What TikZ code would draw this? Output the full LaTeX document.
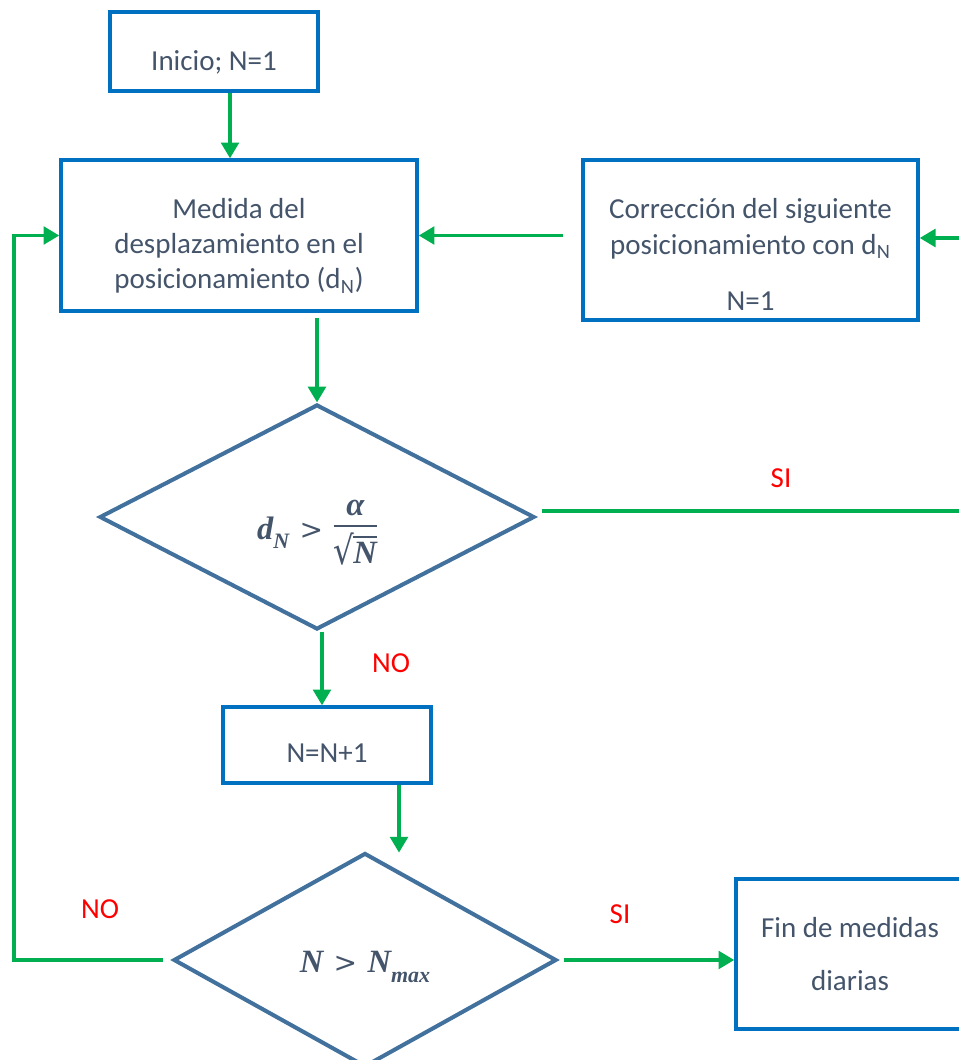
\documentclass[tikz,border=0pt]{standalone}
\usepackage{graphicx}
\usepackage{fontspec}
\setmainfont{Carlito}
\newfontfamily\mates{Liberation Serif}
\newfontfamily\raizf{DejaVu Serif}
\usetikzlibrary{arrows.meta,shapes.geometric}
\definecolor{cajaazul}{HTML}{0070C0}
\definecolor{rombo}{HTML}{41719C}
\definecolor{verde}{HTML}{00B050}
\definecolor{gristexto}{HTML}{44546A}
\newcommand{\mat}[1]{{\mates\bfseries\itshape #1}}
\newcommand{\subi}[1]{\raisebox{-0.3em}{\fontsize{12.5}{12}\selectfont\mat{#1}}}
\newcommand{\mayor}{\hspace{0.32em}{\raizf\fontsize{16}{16}\selectfont\char"3E}\hspace{0.32em}}
\newcommand{\raizN}{\raisebox{-0.5pt}{\scalebox{1}[1.2]{\raizf\char"221A}}\kern-0.6pt\vbox{\hrule height 1.2pt\kern2.6pt\hbox{\mat{N}}}}
\newcommand{\fraccion}[2]{\raisebox{-0.75em}{\vbox{\halign{\hfil##\hfil\cr#1\cr\noalign{\kern5pt\hrule height 1.5pt\kern3pt}#2\cr}}}}

\begin{document}
\begin{tikzpicture}[
    caja/.style={draw=cajaazul,line width=1.9pt,rectangle,align=center,text=gristexto,inner sep=2pt},
    rombito/.style={draw=rombo,line width=2.3pt,shape=diamond,text=gristexto,inner sep=0pt},
    flecha/.style={draw=verde,line width=2.2pt,-{Triangle[length=9pt,width=10pt]}},
    etiqueta/.style={text=red},
    font=\fontsize{16.5}{20}\selectfont
  ]
    \clip (0,0) rectangle (19.18,-21.2);

    \node[caja,minimum width=4.16cm,minimum height=1.58cm,text height=24pt] (inicio) at (4.28,-1.03) {Inicio; N=1};
    \node[caja,minimum width=7.12cm,minimum height=3.02cm] (medida) at (4.78,-4.71)
      {\rule{0pt}{23.5pt}Medida del\\desplazamiento en el\\posicionamiento (d\textsubscript{N})};
    \node[caja,minimum width=6.70cm,minimum height=3.20cm] (correccion) at (15.01,-4.80)
      {\rule{0pt}{28pt}Corrección del siguiente\\posicionamiento con d\textsubscript{N}\\[12pt]N=1};
    \node[rombito,minimum width=8.7cm,minimum height=4.5cm] (decision1) at (6.34,-10.34)
      {\fontsize{18.5}{20}\selectfont\rule{0pt}{40pt}\mat{d}\subi{N}\mayor\fraccion{\mat{α}}{\raizN}};
    \node[caja,minimum width=4.16cm,minimum height=1.52cm,text height=19.5pt] (incremento) at (6.54,-14.9) {N=N+1};
    \node[rombito,minimum width=7.66cm,minimum height=4.28cm] (decision2) at (7.30,-19.2)
      {\fontsize{18.5}{20}\selectfont\rule{0pt}{20pt}\mat{N}\mayor\mat{N}\subi{max}};
    \node[caja,minimum width=4.56cm,minimum height=3.0cm] (fin) at (17.0,-19.08)
      {Fin de medidas\\[10pt]diarias};

    \coordinate (retorno) at (0.28,0);
    \coordinate (derecha) at (19.6,0);

    \node[etiqueta] (si1) at (15.62,-9.56) {SI};
    \node[etiqueta] (no1) at (7.82,-13.26) {NO};
    \node[etiqueta] (no2) at (2.0,-18.18) {NO};
    \node[etiqueta] (si2) at (12.4,-18.28) {SI};

    % conexiones
    \draw[flecha] ([xshift=0.32cm]inicio.south) -- ([xshift=0.32cm]inicio.south |- medida.north);
    \draw[flecha] ([xshift=-0.36cm]correccion.west |- medida.east) -- (medida.east);
    \draw[flecha] ([yshift=-0.1cm]decision1.north |- medida.south) -- (decision1.north);
    \draw[flecha] ([xshift=0.1cm]decision1.south) -- ([xshift=0.1cm]decision1.south |- incremento.north);
    \draw[flecha] ([xshift=1.44cm]incremento.south) -- ++(0,-1.36);
    \draw[flecha] ([xshift=-0.16cm]decision2.west) -- (decision2.west -| retorno) |- (medida.west);
    \draw[flecha] ([xshift=0.1cm]decision2.east) -- (decision2.east -| fin.west);
    \draw[flecha] ([xshift=0.1cm,yshift=0.12cm]decision1.east) -- ([yshift=0.12cm]decision1.east -| derecha) |- ([yshift=0.04cm]correccion.east);
  \end{tikzpicture}
\end{document}
